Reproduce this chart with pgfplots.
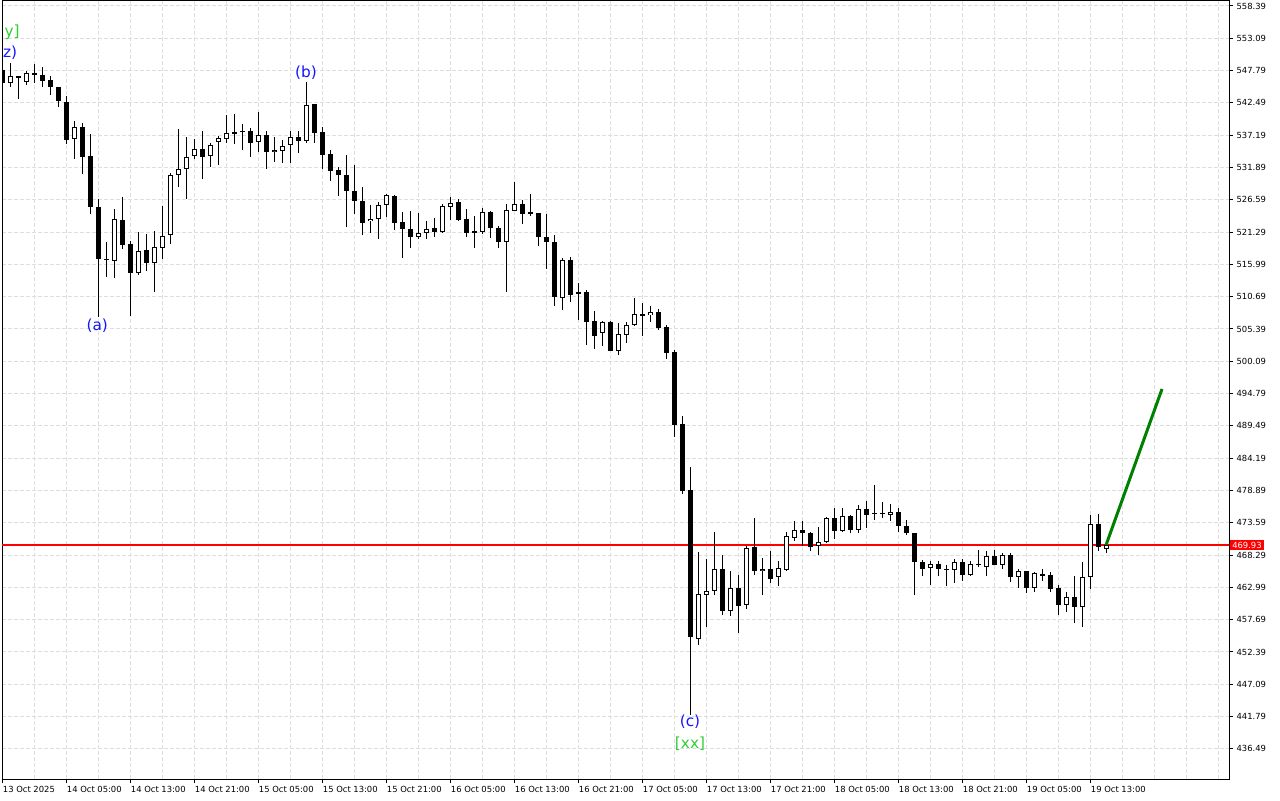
\documentclass[border=0pt]{standalone}
\usepackage{fontspec}
\setmainfont{DejaVu Sans}
\usepackage{pgfplots}
\pgfplotsset{compat=1.18}
\usepackage{pgfplotstable}
\definecolor{gridc}{RGB}{222,222,222}
\definecolor{lblue}{RGB}{20,20,255}
\definecolor{lgreen}{RGB}{50,205,50}
\definecolor{dgreen}{RGB}{0,128,0}
\definecolor{pricered}{RGB}{255,0,0}

\pgfplotstableread{
i O H L C
0 547.89 548.22 545.43 545.76
1 545.71 549.09 545.05 546.90
2 546.82 546.90 543.08 546.69
3 545.97 547.72 545.48 547.35
4 547.35 548.87 545.80 547.02
5 547.12 548.43 545.05 546.13
6 546.25 546.90 543.84 545.05
7 545.05 545.10 541.77 542.75
8 542.64 543.62 535.75 536.40
9 536.52 539.57 533.33 538.49
10 538.49 539.24 530.82 533.66
11 533.78 537.39 524.26 525.36
12 525.36 526.67 507.41 516.83
13 516.85 519.67 513.97 516.83
14 516.60 525.03 513.76 523.39
15 523.28 527.00 518.47 519.22
16 519.34 519.88 507.52 514.63
17 514.63 521.31 514.20 518.24
18 518.35 520.98 514.96 516.17
19 516.17 521.42 511.46 518.80
20 518.68 525.57 516.83 520.65
21 520.77 530.94 519.34 530.61
22 530.71 538.16 528.64 531.69
23 531.69 536.85 526.77 533.56
24 533.78 536.52 533.24 534.97
25 534.97 537.83 529.95 533.56
26 533.78 535.96 532.02 535.53
27 536.07 537.06 532.25 536.73
28 536.62 540.46 535.96 537.50
29 537.72 540.67 535.75 537.50
30 537.83 539.03 534.76 537.80
31 537.93 538.37 533.66 535.96
32 536.07 541.00 534.43 537.17
33 537.17 537.83 531.69 534.43
34 534.43 536.85 532.79 534.76
35 534.65 536.40 532.68 535.42
36 535.53 537.83 532.68 536.85
37 536.85 537.83 534.22 536.29
38 536.29 545.92 535.86 542.10
39 542.31 542.31 535.96 537.60
40 537.72 538.49 531.69 533.99
41 534.11 534.76 529.72 531.37
42 531.48 531.92 527.21 530.71
43 530.61 533.89 522.18 527.98
44 527.98 532.25 524.26 526.34
45 526.34 528.64 520.77 522.83
46 523.06 525.69 521.19 523.49
47 523.49 526.23 520.11 525.69
48 525.69 527.54 523.82 527.33
49 527.21 527.43 521.63 522.83
50 522.95 524.59 517.04 521.85
51 521.75 524.80 518.68 520.53
52 520.53 524.47 520.21 521.09
53 521.09 523.06 520.21 521.85
54 521.96 523.60 520.53 521.31
55 521.31 525.90 521.19 525.57
56 525.46 527.00 523.28 526.11
57 526.23 526.67 523.06 523.28
58 523.39 525.03 520.44 521.19
59 521.33 523.93 518.68 521.31
60 521.36 525.29 521.03 524.54
61 524.54 524.75 520.27 521.91
62 522.01 522.24 518.63 519.62
63 519.62 525.85 511.41 524.87
64 524.75 529.46 524.75 525.85
65 525.85 526.61 522.67 524.31
66 524.54 527.59 523.88 524.21
67 524.42 524.42 519.06 520.49
68 520.49 524.21 515.23 519.62
69 519.62 520.81 509.11 510.64
70 510.43 516.99 508.56 516.66
71 516.66 517.20 509.87 510.97
72 511.35 512.94 506.87 511.33
73 511.46 511.79 502.81 506.54
74 506.65 508.39 502.16 504.24
75 504.78 506.75 502.60 506.54
76 506.54 506.70 501.70 501.83
77 501.83 506.32 501.07 504.57
78 504.45 506.54 503.14 506.00
79 506.00 510.48 505.90 507.85
80 507.74 509.61 504.24 507.72
81 507.64 509.16 506.54 508.18
82 508.18 508.62 505.23 505.55
83 505.77 506.10 500.52 501.40
84 501.62 501.94 487.72 489.69
85 489.80 491.11 478.31 478.86
86 478.97 482.79 442.00 454.80
87 454.57 468.80 453.59 461.91
88 461.79 467.60 456.54 462.35
89 462.35 472.08 461.79 465.96
90 465.96 468.26 458.41 459.07
91 459.07 465.73 458.30 462.89
92 462.89 465.07 455.56 459.94
93 460.05 469.78 459.40 469.45
94 469.67 474.38 464.97 465.63
95 465.63 467.81 461.79 465.96
96 465.96 469.01 463.66 464.42
97 464.65 467.37 463.22 466.17
98 465.84 472.08 465.73 471.42
99 471.09 473.83 470.65 472.41
100 472.41 473.83 469.78 471.87
101 471.96 472.08 468.91 469.67
102 469.78 472.85 468.26 470.44
103 470.44 474.59 470.22 474.38
104 474.38 476.02 470.98 472.19
105 472.19 476.02 472.08 474.71
106 474.71 474.92 471.87 472.41
107 472.41 476.46 471.87 475.80
108 475.80 477.22 472.74 474.92
109 475.16 479.84 474.05 475.14
110 475.14 477.00 474.38 475.15
111 474.92 476.67 473.93 475.36
112 475.36 476.02 472.08 473.06
113 473.06 474.05 471.54 471.87
114 471.96 471.96 461.79 467.16
115 467.16 467.49 464.86 466.06
116 466.17 467.37 463.43 466.83
117 466.83 467.37 464.86 465.96
118 466.06 466.71 463.22 465.84
119 465.84 467.70 463.66 467.16
120 467.16 467.60 463.99 465.07
121 465.07 467.37 464.86 466.83
122 466.84 469.13 466.28 466.82
123 466.39 468.91 464.86 468.14
124 468.14 469.13 466.60 466.71
125 466.71 468.68 466.06 468.35
126 468.35 468.68 463.88 464.74
127 464.74 465.96 462.89 465.63
128 465.63 465.70 462.02 462.89
129 462.89 465.51 462.23 465.30
130 465.08 466.06 463.99 465.06
131 464.97 465.51 462.23 462.78
132 462.89 463.43 458.51 460.05
133 460.05 462.23 458.95 461.36
134 461.36 464.86 457.10 459.82
135 459.82 467.16 456.54 464.74
136 464.74 474.92 462.78 473.39
137 473.39 475.03 469.01 469.57
138 469.30 470.30 468.58 469.93
}\candles

\pgfplotstableread{
i P
138 469.93
145 495.55
}\forecast

\pgfplotstableread{
i P
0 469.93
153.375 469.93
}\priceline

\begin{document}
\begin{tikzpicture}
\path[use as bounding box] (0,0) rectangle (960pt,600pt);
\begin{axis}[
  at={(1.5pt,15.75pt)}, anchor=south west,
  scale only axis, width=920.25pt, height=583.5pt,
  xmin=0, xmax=153.375, ymin=431.55, ymax=559.21,
  axis line style={black, line width=0.75pt},
  tick align=outside,
  major tick length=3pt, minor tick length=0pt,
  tick style={black, line width=0.75pt},
  xtick pos=left, ytick pos=right,
  yticklabel pos=right,
  xtick={0,8,...,136},
  xticklabels={13 Oct 2025, 14 Oct 05:00, 14 Oct 13:00, 14 Oct 21:00, 15 Oct 05:00, 15 Oct 13:00, 15 Oct 21:00, 16 Oct 05:00, 16 Oct 13:00, 16 Oct 21:00, 17 Oct 05:00, 17 Oct 13:00, 17 Oct 21:00, 18 Oct 05:00, 18 Oct 13:00, 18 Oct 21:00, 19 Oct 05:00, 19 Oct 13:00},
  minor xtick={4,12,20,28,36,44,52,60,68,76,84,92,100,108,116,124,132,140,144,148,152},
  ytick={436.49,441.79,447.09,452.39,457.69,462.99,468.29,473.59,478.89,484.19,489.49,494.79,500.09,505.39,510.69,515.99,521.29,526.59,531.89,537.19,542.49,547.79,553.09,558.39},
  yticklabels={436.49,441.79,447.09,452.39,457.69,462.99,468.29,473.59,478.89,484.19,489.49,494.79,500.09,505.39,510.69,515.99,521.29,526.59,531.89,537.19,542.49,547.79,553.09,558.39},
  ticklabel style={font=\fontsize{6.3}{7}\selectfont, black},
  xticklabel style={anchor=north west, inner sep=0pt, xshift=0.5pt, yshift=-2.5pt},
  yticklabel style={anchor=west, inner sep=0pt, xshift=2.5pt},
  grid=both,
  major grid style={gridc, dash pattern=on 3pt off 1.5pt, line width=0.75pt},
  minor grid style={gridc, dash pattern=on 3pt off 1.5pt, line width=0.75pt},
]
% current price line
\addplot[draw=pricered, mark=none, solid, line width=1.1pt, forget plot] table[x=i, y=P] {\priceline};
% wicks
\addplot[draw=none, mark=none, forget plot,
  error bars/.cd, y dir=both, y explicit, error mark=none,
  error bar style={draw=black, solid, line width=0.75pt}]
  table[x=i, y expr={(\thisrow{H}+\thisrow{L})/2}, y error expr={(\thisrow{H}-\thisrow{L})/2}] {\candles};
% bodies (black)
\addplot[draw=none, mark=none, forget plot,
  error bars/.cd, y dir=both, y explicit, error mark=none,
  error bar style={draw=black, solid, line width=3.75pt}]
  table[x=i, y expr={(\thisrow{O}+\thisrow{C})/2}, y error expr={max(abs(\thisrow{C}-\thisrow{O})/2,0.08)}] {\candles};
% bullish interiors (white)
\addplot[draw=none, mark=none, forget plot,
  error bars/.cd, y dir=both, y explicit, error mark=none,
  error bar style={draw=white, solid, line width=2.25pt}]
  table[x=i, y expr={(\thisrow{O}+\thisrow{C})/2}, y error expr={ifthenelse(\thisrow{C}>\thisrow{O}, max(abs(\thisrow{C}-\thisrow{O})/2-0.164,0), 0)}] {\candles};
% forecast
\addplot[draw=dgreen, mark=none, solid, line width=2.25pt, forget plot] table[x=i, y=P] {\forecast};
\coordinate (pl) at (axis cs:153.375,469.93);
\node[text=lblue, font=\fontsize{11.5}{13}\selectfont] at (axis cs:11.9,506.0) {(a)};
\node[text=lblue, font=\fontsize{11.5}{13}\selectfont] at (axis cs:38,547.4) {(b)};
\node[text=lblue, font=\fontsize{11.5}{13}\selectfont] at (axis cs:86,440.9) {(c)};
\node[text=lgreen, font=\fontsize{11.5}{13}\selectfont] at (axis cs:86,437.3) {[xx]};
\node[text=lgreen, font=\fontsize{11.5}{13}\selectfont, anchor=west, inner sep=0pt] at (axis cs:0.3,554.1) {y]};
\node[text=lblue, font=\fontsize{11.5}{13}\selectfont, anchor=west, inner sep=0pt] at (axis cs:0.1,550.7) {z)};
\end{axis}
\node[fill=pricered, text=white, anchor=west, inner xsep=1.5pt, inner ysep=1.5pt, font=\fontsize{6.3}{7}\selectfont] at ([xshift=0.75pt]pl) {469.93};
\end{tikzpicture}
\end{document}
